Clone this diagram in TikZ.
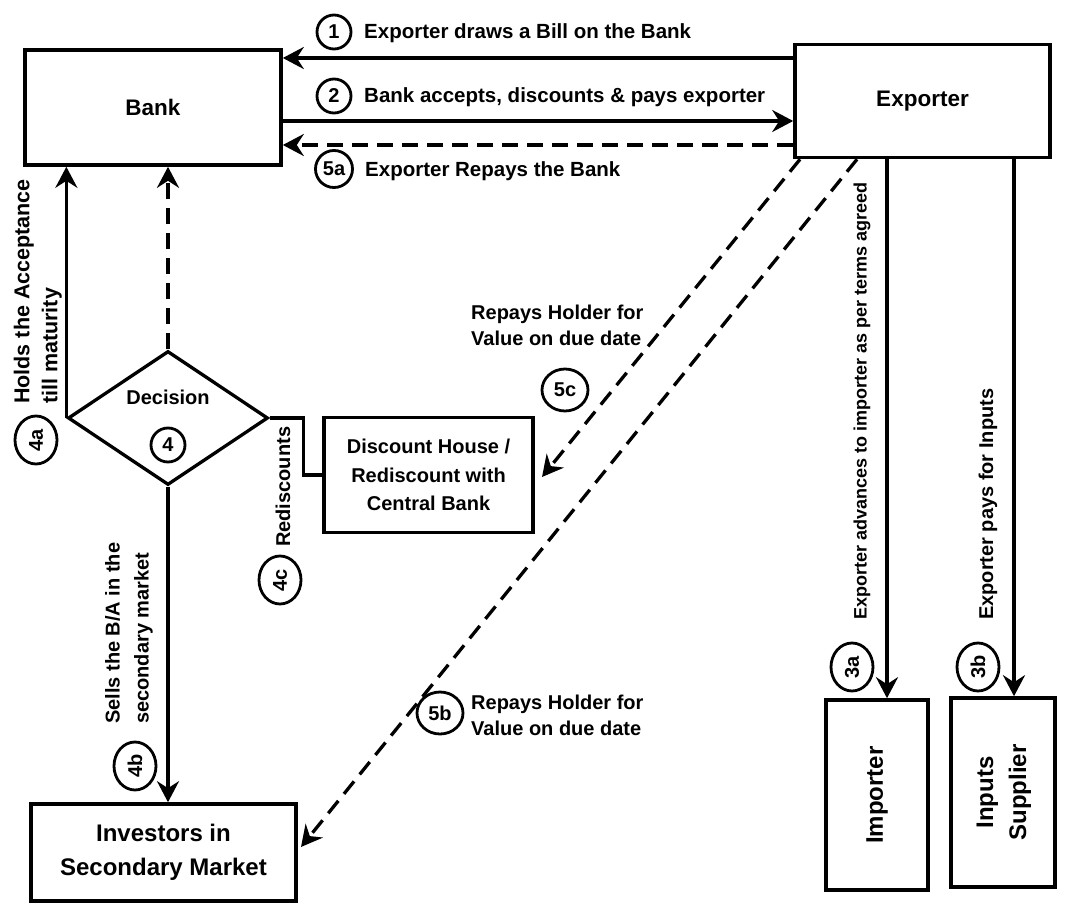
\documentclass[tikz,border=0pt]{standalone}
\usepackage{fontspec}
\setmainfont{Liberation Sans}
\usetikzlibrary{arrows.meta,shapes.geometric}
\begin{document}
\begin{tikzpicture}[x=1pt,y=-1pt,
  box/.style={draw,line width=3.6pt,inner sep=0pt,align=center,font=\bfseries\fontsize{22.5}{30}\selectfont},
  lab/.style={inner sep=0pt,font=\bfseries\fontsize{20.5}{26}\selectfont},
  num/.style={draw,line width=2.8pt,circle,minimum size=34pt,inner sep=0pt,font=\bfseries\fontsize{20}{24}\selectfont},
  numw/.style={draw,line width=2.8pt,ellipse,minimum width=46pt,minimum height=42pt,inner sep=0pt,font=\bfseries\fontsize{20}{24}\selectfont},
  numr/.style={numw,rotate=90,minimum width=48pt,minimum height=42pt},
  conn/.style={line width=3.3pt},
  arr/.style={conn,-{Stealth[length=21pt,width=22pt,inset=7pt]}},
  darr/.style={arr,dash pattern=on 16pt off 9pt}
]
\useasboundingbox (0,0) rectangle (1071,904);

% boxes
\node[box,minimum width=256pt,minimum height=115pt] (bank) at (153,107.5) {Bank};
\node[box,minimum width=255pt,minimum height=113pt] (exporter) at (922.5,101) {Exporter};
\node[box,font=\bfseries\fontsize{20}{28.5}\selectfont,minimum width=209pt,minimum height=115pt] (discount) at (428.5,475) {Discount House /\\Rediscount with\\Central Bank};
\node[box,font=\bfseries\fontsize{24}{34}\selectfont,minimum width=265pt,minimum height=97pt] (investors) at (163.5,852.5) {Investors in\\Secondary Market};
\node[box,font=\bfseries\fontsize{24}{33}\selectfont,minimum width=102pt,minimum height=190pt] (importer) at (877,795) {\rotatebox{90}{Importer}};
\node[box,font=\bfseries\fontsize{24}{33}\selectfont,minimum width=104pt,minimum height=189pt] (supplier) at (1003,792.5) {\rotatebox{90}{\begin{tabular}{@{}c@{}}Inputs\\Supplier\end{tabular}}};
\node[draw,line width=3.3pt,diamond,minimum width=200pt,minimum height=134pt,inner sep=0pt] (dec) at (168,418) {};
\node[lab,font=\bfseries\fontsize{20}{24}\selectfont] (dectext) at (168,397) {Decision};
\node[num] (n4) at (168,445) {4};

% helper coordinates
\coordinate (y1) at (0,58);
\coordinate (y2) at (0,121);
\coordinate (y5) at (0,145);
\coordinate (c3a) at (887,0);
\coordinate (c3b) at (1014,0);
\coordinate (s5c) at (800,0);
\coordinate (t5c) at (542,477);
\coordinate (s5b) at (857,0);
\coordinate (t5b) at (301,847);

% connectors
\draw[arr] (exporter.west |- y1) -- (bank.east |- y1);
\draw[arr] (bank.east |- y2) -- (exporter.west |- y2);
\draw[darr] (exporter.west |- y5) -- (bank.east |- y5);
\draw[arr] (dec.west) -- (dec.west |- bank.south);
\draw[darr] (dec.north) -- (dec.north |- bank.south);
\draw[arr] (dec.south) -- (dec.south |- investors.north);
\draw[conn] (dec.east) -- ++(34,0) |- (discount.west);
\draw[arr] (exporter.south -| c3a) -- (importer.north -| c3a);
\draw[arr] (exporter.south -| c3b) -- (supplier.north -| c3b);
\draw[darr] (exporter.south -| s5c) -- (t5c);
\draw[darr] (exporter.south -| s5b) -- (t5b);

% top labels
\node[num] (c1) at (334,32) {1};
\node[lab,anchor=base west] (t1) at (364,39) {Exporter draws a Bill on the Bank};
\node[num] (c2) at (334,96) {2};
\node[lab,anchor=base west] (t2) at (364,103) {Bank accepts, discounts \& pays exporter};
\node[num,minimum size=37pt] (c5a) at (334,169) {5a};
\node[lab,anchor=base west] (t5a) at (365,177) {Exporter Repays the Bank};

% left labels
\node[lab,font=\bfseries\fontsize{21.5}{28}\selectfont,rotate=90,align=left,anchor=south west] (t4a) at (62,404) {Holds the Acceptance\\till maturity};
\node[numr] (c4a) at (36,440) {4a};
\node[lab,font=\bfseries\fontsize{20}{29}\selectfont,rotate=90,align=left,anchor=south west] (t4b) at (153,724) {Sells the B/A in the\\secondary market};
\node[numr] (c4b) at (135,766) {4b};
\node[lab,font=\bfseries\fontsize{20}{24}\selectfont,rotate=90,anchor=west] (t4c) at (283,547) {Rediscounts};
\node[numr] (c4c) at (280,580) {4c};

% diagonal labels
\node[lab,font=\bfseries\fontsize{20}{26}\selectfont,align=left,anchor=west] (t5c) at (471,325) {Repays Holder for\\Value on due date};
\node[numw] (c5c) at (565,390) {5c};
\node[numw] (c5b) at (440,713) {5b};
\node[lab,font=\bfseries\fontsize{20}{26}\selectfont,align=left,anchor=west] (t5b) at (471,715) {Repays Holder for\\Value on due date};

% right labels
\node[lab,font=\bfseries\fontsize{18}{22}\selectfont,rotate=90,anchor=west] (t3a) at (862,620) {Exporter advances to importer as per terms agreed};
\node[numr] (c3acirc) at (852,667) {3a};
\node[lab,font=\bfseries\fontsize{20}{24}\selectfont,rotate=90,anchor=west] (t3b) at (988,620) {Exporter pays for Inputs};
\node[numr] (c3bcirc) at (978,667) {3b};
\end{tikzpicture}
\end{document}
